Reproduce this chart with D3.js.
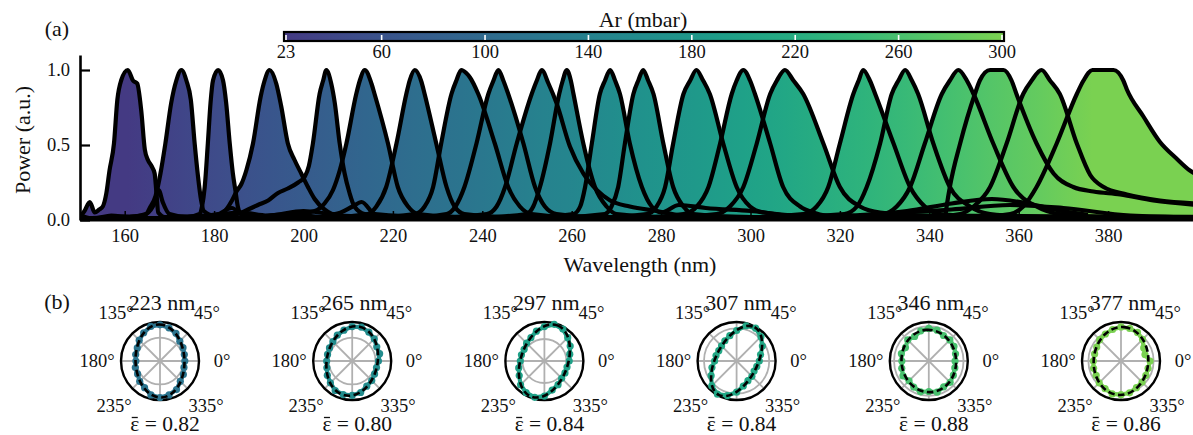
<!DOCTYPE html>
<html>
<head>
<meta charset="utf-8">
<title>Ar spectra</title>
<script src="https://cdn.jsdelivr.net/npm/d3@7"></script>
<style>
  body { margin: 0; background: #fff; }
  svg, svg text { font-family: "Liberation Serif", "Times New Roman", Tinos, "DejaVu Serif", serif; fill: #111; }
</style>
</head>
<body>
<script>

// Ar pressure (mbar) of each spectrum, in order of wavelength
var pressures = [23, 38, 49, 65, 80, 91, 106, 118, 128, 141, 148, 160, 170, 185, 199, 211, 232, 244, 260, 271, 284, 300];

// spectra: [wavelength nm, power a.u.]
var spectra = [
  [[150,0.02],[151,0.06],[152.2,0.12],[153.3,0.05],[154.3,0.07],[155.1,0.09],[155.9,0.18],[156.6,0.33],[157.6,0.51],[158.35,0.8],[159.2,0.93],[160.7,1.0],[161.85,0.93],[162.8,0.91],[163.7,0.73],[164.5,0.47],[165.2,0.4],[166,0.36],[166.7,0.31],[167.1,0.18],[167.5,0.05],[169,0.02],[178,0.03],[186,0.05],[192,0.03],[200,0.06],[207,0.04],[211,0.09],[213,0.12],[216,0.04],[230,0.02],[280,0.01],[400,0.01]],
  [[150,0.03],[153,0.01],[157,0.03],[161,0.02],[164.8,0.04],[165.6,0.08],[166.9,0.16],[168,0.31],[169.1,0.51],[170.4,0.78],[171.55,0.93],[172.7,1.0],[173.8,0.93],[174.8,0.8],[175.65,0.51],[176.4,0.29],[177.1,0.13],[177.7,0.06],[180,0.03],[184,0.08],[186,0.04],[195,0.02],[220,0.02],[260,0.01],[400,0.01]],
  [[150,0.01],[158,0.02],[164,0.03],[166.5,0.1],[167.6,0.2],[168.5,0.12],[170,0.04],[174,0.02],[176.8,0.04],[177.3,0.09],[177.9,0.22],[178.6,0.51],[179.2,0.78],[179.75,0.93],[180.9,1.0],[182,0.93],[182.7,0.78],[183.5,0.51],[184.2,0.31],[184.75,0.2],[185.3,0.09],[186,0.04],[188,0.02],[197,0.04],[204,0.02],[240,0.01],[400,0.01]],
  [[150,0.01],[170,0.01],[181.6,0.04],[182.7,0.07],[184,0.13],[185,0.19],[186.1,0.24],[187.2,0.33],[188.7,0.51],[190.4,0.82],[191.3,0.93],[192.4,1.0],[193.9,0.91],[195,0.76],[196.5,0.51],[198,0.4],[199.5,0.31],[201,0.22],[202.5,0.14],[204.7,0.07],[207.7,0.03],[220,0.02],[400,0.01]],
  [[150,0.01],[175,0.01],[185.3,0.04],[187.6,0.07],[189.8,0.1],[192.1,0.13],[194.3,0.18],[196.5,0.21],[198.8,0.25],[200.3,0.29],[201.2,0.36],[202.1,0.51],[203.6,0.84],[204.4,0.93],[205.1,1.0],[206.2,0.91],[207,0.78],[208.1,0.51],[209.2,0.31],[210.3,0.18],[211.4,0.09],[213.7,0.04],[222,0.02],[400,0.01]],
  [[150,0.01],[190,0.01],[202.5,0.06],[204.7,0.11],[206.6,0.2],[208.1,0.33],[209.6,0.51],[211.8,0.84],[212.6,0.93],[213.7,1.0],[215.2,0.91],[215.9,0.84],[218.9,0.51],[221.1,0.22],[223.4,0.09],[225.6,0.04],[235,0.02],[400,0.01]],
  [[150,0.01],[200,0.01],[214.4,0.04],[216.3,0.09],[218.5,0.22],[220.8,0.51],[223,0.84],[223.75,0.93],[224.9,1.0],[226.4,0.92],[227.1,0.84],[229.7,0.51],[232,0.22],[233.8,0.09],[236,0.04],[245,0.02],[400,0.01]],
  [[150,0.01],[210,0.01],[224.9,0.04],[227.1,0.09],[229,0.22],[230.8,0.51],[233.1,0.84],[234.2,0.93],[235.3,1.0],[236.4,0.98],[237.25,0.95],[239.1,0.84],[242.8,0.51],[245.8,0.22],[248.4,0.09],[251,0.04],[260,0.02],[400,0.01]],
  [[150,0.01],[220,0.01],[232,0.04],[234,0.09],[236,0.22],[238.7,0.51],[241.35,0.84],[242.5,0.93],[243.6,1.0],[244.7,0.93],[245.8,0.84],[249.2,0.51],[251.8,0.22],[254,0.09],[256.6,0.04],[265,0.02],[400,0.01]],
  [[150,0.01],[225,0.01],[241,0.04],[243.2,0.09],[245.1,0.22],[247.7,0.51],[251.05,0.84],[252.2,0.93],[253.3,1.0],[254.8,0.91],[256.6,0.78],[259.6,0.49],[262.6,0.31],[265.6,0.2],[268.6,0.13],[273,0.09],[279,0.06],[285,0.03],[300,0.02],[400,0.01]],
  [[150,0.01],[235,0.01],[249.9,0.04],[251.4,0.09],[252.9,0.22],[255.15,0.51],[257.2,0.84],[258,0.93],[258.9,1.0],[259.8,0.93],[260.4,0.84],[262.6,0.51],[265.2,0.22],[267.8,0.09],[270,0.04],[280,0.02],[400,0.01]],
  [[150,0.01],[245,0.01],[260.4,0.04],[261.9,0.09],[263,0.22],[264.5,0.51],[266.3,0.84],[267.45,0.93],[268.6,1.0],[269.7,0.93],[270.8,0.84],[273,0.51],[275.7,0.22],[277.9,0.09],[280.1,0.05],[284,0.1],[290,0.08],[300,0.06],[310,0.03],[330,0.02],[400,0.01]],
  [[150,0.01],[250,0.01],[267.4,0.04],[268.9,0.09],[270.4,0.22],[271.9,0.51],[273.8,0.84],[274.9,0.93],[276,1.0],[277.1,0.93],[278.3,0.84],[280.5,0.51],[282.7,0.22],[285,0.09],[287.2,0.04],[300,0.02],[400,0.01]],
  [[150,0.01],[260,0.01],[276.8,0.04],[279,0.09],[280.9,0.22],[282.7,0.51],[285,0.84],[286.5,0.93],[287.9,1.0],[289.4,0.93],[290.9,0.84],[293.9,0.51],[296.9,0.22],[299.9,0.09],[302.9,0.05],[310,0.03],[320,0.03],[335,0.06],[345,0.11],[354,0.14],[362,0.11],[368,0.07],[375.5,0.035]],
  [[150,0.01],[270,0.01],[285,0.04],[288,0.09],[290.6,0.22],[293.2,0.51],[295.8,0.84],[296.9,0.93],[298.4,1.0],[299.9,0.93],[301,0.84],[304.4,0.51],[307.3,0.22],[311.1,0.09],[314,0.05],[320,0.02],[330,0.04],[345,0.07],[358,0.1],[370,0.08],[385,0.03],[400,0.02]],
  [[150,0.01],[275,0.01],[292.4,0.04],[295.4,0.09],[298.4,0.22],[301.4,0.51],[304.4,0.84],[305.9,0.93],[307.7,1.0],[309.6,0.93],[311.8,0.84],[316.3,0.51],[320,0.22],[324.5,0.09],[329,0.05],[340,0.03],[400,0.02]],
  [[150,0.01],[290,0.01],[311.8,0.04],[314.8,0.09],[317.4,0.22],[320,0.51],[323,0.84],[324.2,0.93],[325.2,1.0],[326.7,0.93],[327.9,0.84],[332,0.51],[335.7,0.22],[339,0.09],[342.4,0.04],[355,0.02],[400,0.01]],
  [[150,0.01],[300,0.01],[321,0.04],[323.8,0.09],[326,0.22],[329,0.51],[331.6,0.84],[333.1,0.93],[334.6,1.0],[336.1,0.93],[337.5,0.84],[340.9,0.51],[344.6,0.22],[349.1,0.09],[353.6,0.04],[365,0.02],[400,0.01]],
  [[150,0.01],[310,0.01],[329.7,0.04],[332.7,0.09],[335.7,0.22],[339,0.51],[342.8,0.84],[344.6,0.93],[346.5,1.0],[348.4,0.93],[349.9,0.84],[354.3,0.51],[358.8,0.22],[364,0.09],[369.2,0.04],[380,0.02],[400,0.02]],
  [[343.5,0.0],[343.7,0.05],[344.6,0.22],[346.9,0.51],[350.2,0.84],[351.3,0.93],[353.6,1.0],[356.6,1.0],[358.4,0.93],[359.5,0.84],[364,0.51],[367.8,0.31],[372.2,0.22],[376.7,0.19],[382.7,0.17],[390.1,0.13],[400,0.1]],
  [[150,0.01],[320,0.01],[340,0.02],[346.9,0.04],[349.9,0.09],[353.6,0.22],[357.3,0.51],[361,0.84],[362.9,0.93],[365.1,1.0],[367,0.93],[369.2,0.84],[373,0.51],[376,0.3],[379,0.22],[384.2,0.17],[391.6,0.13],[400,0.11]],
  [[150,0.01],[330,0.01],[350,0.02],[358.1,0.04],[361,0.09],[364,0.22],[368.5,0.51],[373,0.84],[374.5,0.93],[376.5,1.0],[381.2,1.0],[383.4,0.93],[384.2,0.87],[387.9,0.69],[391.6,0.52],[395.3,0.41],[398.3,0.33],[400,0.3]]
];

var xTicks = [160, 180, 200, 220, 240, 260, 280, 300, 320, 340, 360, 380];
var yTicks = [0, 0.5, 1.0];
var cbTicks = [23, 60, 100, 140, 180, 220, 260, 300];

// polarisation panels (b)
var polarTitles = ["223 nm", "265 nm", "297 nm", "307 nm", "346 nm", "377 nm"];
var polarEps = ["0.82", "0.80", "0.84", "0.84", "0.88", "0.86"];
var polarPressure = [118, 160, 199, 211, 260, 300];
var polarAngles = [0, 15, 30, 45, 60, 75, 90, 105, 120, 135, 150, 165, 180, 195, 210, 225, 240, 255, 270, 285, 300, 315, 330, 345];
var polarR = [
  [0.70,0.71,0.75,0.79,0.90,0.97,1.02,1.01,0.92,0.83,0.74,0.71,0.68,0.72,0.73,0.81,0.87,0.99,1.03,0.99,0.93,0.81,0.76,0.70],
  [0.74,0.80,0.80,0.88,0.94,0.99,0.97,0.90,0.84,0.77,0.74,0.72,0.72,0.74,0.81,0.87,0.96,0.98,0.97,0.92,0.82,0.78,0.73,0.71],
  [0.70,0.74,0.84,0.93,1.04,1.07,0.97,0.87,0.76,0.71,0.66,0.67,0.68,0.75,0.82,0.95,1.03,1.06,0.99,0.85,0.77,0.69,0.67,0.66],
  [0.64,0.70,0.84,0.97,1.07,1.03,0.86,0.74,0.66,0.60,0.58,0.60,0.62,0.72,0.83,0.99,1.08,1.01,0.88,0.73,0.64,0.61,0.57,0.59],
  [0.74,0.78,0.82,0.84,0.83,0.90,0.92,0.88,0.80,0.84,0.76,0.80,0.76,0.79,0.84,0.79,0.85,0.90,0.86,0.91,0.84,0.85,0.80,0.76],
  [0.82,0.70,0.74,0.86,0.93,0.95,0.96,0.92,0.88,0.85,0.79,0.77,0.78,0.80,0.81,0.87,0.90,0.96,0.95,0.93,0.87,0.84,0.81,0.79]
];
// dashed ellipse fit: semi-axes and orientation (deg)
var fitA = [1.03, 0.99, 1.07, 1.08, 0.88, 0.96];
var fitB = [0.69, 0.715, 0.66, 0.58, 0.77, 0.77];
var fitAngle = [92, 78, 70, 62, 95, 85];
var gridRing = [0.66, 0.66, 0.62, 0.92, 0.98, 0.92];

var W = 1193, H = 435;
var FONT = "'Liberation Serif', 'Times New Roman', Tinos, 'DejaVu Serif', serif";

var svg = d3.select("body").append("svg")
    .attr("width", W)
    .attr("height", H)
    .style("font-family", FONT);

var cmap = function(p) {
  return d3.interpolateViridis(0.17 + 0.63 * (p - 23) / 277);
};

// ---------- panel (a) ----------
var x = d3.scaleLinear().domain([150, 400]).range([80, 1197.5]);
var y = d3.scaleLinear().domain([0, 1.1]).range([220, 55]);

var defs = svg.append("defs");

// fill colour follows the wavelength of each spectrum's maximum
var grad = defs.append("linearGradient")
    .attr("id", "specgrad")
    .attr("gradientUnits", "userSpaceOnUse")
    .attr("x1", x(150)).attr("x2", x(400))
    .attr("y1", 0).attr("y2", 0);

spectra.forEach(function(s, i) {
  var top = d3.greatest(s, function(d) { return d[1]; });
  grad.append("stop")
      .attr("offset", (top[0] - 150) / 250)
      .attr("stop-color", cmap(pressures[i]));
});

defs.append("clipPath").attr("id", "plotclip")
  .append("rect")
    .attr("x", x(150)).attr("y", 0)
    .attr("width", x(400) - x(150)).attr("height", y(0));

var area = d3.area()
    .x(function(d) { return x(d[0]); })
    .y0(y(0))
    .y1(function(d) { return y(d[1]); })
    .curve(d3.curveMonotoneX);

var line = d3.line()
    .x(function(d) { return x(d[0]); })
    .y(function(d) { return y(d[1]); })
    .curve(d3.curveMonotoneX);

var plot = svg.append("g").attr("clip-path", "url(#plotclip)");

plot.selectAll("path.fill")
    .data(spectra)
  .enter().append("path")
    .attr("class", "fill")
    .attr("d", area)
    .attr("fill", "url(#specgrad)");

plot.selectAll("path.spec")
    .data(spectra)
  .enter().append("path")
    .attr("class", "spec")
    .attr("d", line)
    .attr("fill", "none")
    .attr("stroke", "#000")
    .attr("stroke-width", 4.2)
    .attr("stroke-linejoin", "round");

var xAxis = d3.axisBottom(x)
    .tickValues(xTicks)
    .tickSizeInner(-9)
    .tickSizeOuter(0)
    .tickPadding(9);

var xg = svg.append("g")
    .attr("transform", "translate(0," + y(0) + ")")
    .call(xAxis);
xg.select(".domain").attr("stroke-width", 2.2);
xg.selectAll(".tick line").attr("stroke-width", 1.5);

var yAxis = d3.axisLeft(y)
    .tickValues(yTicks)
    .tickFormat(d3.format(".1f"))
    .tickSizeInner(-10)
    .tickSizeOuter(0)
    .tickPadding(10);

var yg = svg.append("g")
    .attr("transform", "translate(" + x(150) + ",0)")
    .call(yAxis);
yg.select(".domain").attr("stroke-width", 2.6);
yg.selectAll(".tick line").attr("stroke-width", 2.2);

svg.selectAll(".tick text")
    .attr("font-size", 18.5)
    .style("font-family", FONT)
    .attr("fill", "#111");

svg.append("text")
    .attr("transform", "translate(22,140) rotate(-90)")
    .attr("text-anchor", "middle")
    .attr("dominant-baseline", "central")
    .attr("font-size", 22)
    .text("Power (a.u.)");

svg.append("text")
    .attr("x", 640).attr("y", 264)
    .attr("text-anchor", "middle")
    .attr("dominant-baseline", "central")
    .attr("font-size", 22)
    .text("Wavelength (nm)");

svg.append("text")
    .attr("x", 57).attr("y", 28)
    .attr("text-anchor", "middle")
    .attr("dominant-baseline", "central")
    .attr("font-size", 22)
    .text("(a)");

// colour bar
var cb = d3.scaleLinear().domain([23, 300]).range([286, 1002]);

var cbgrad = defs.append("linearGradient")
    .attr("id", "cbgrad")
    .attr("gradientUnits", "userSpaceOnUse")
    .attr("x1", cb(23)).attr("x2", cb(300))
    .attr("y1", 0).attr("y2", 0);
d3.range(0, 1.0001, 0.1).forEach(function(t) {
  cbgrad.append("stop")
      .attr("offset", t)
      .attr("stop-color", cmap(23 + t * 277));
});

svg.append("rect")
    .attr("x", cb.range()[0] - 2).attr("y", 32)
    .attr("width", cb.range()[1] - cb.range()[0] + 4).attr("height", 9)
    .attr("fill", "url(#cbgrad)")
    .attr("stroke", "#000")
    .attr("stroke-width", 2.2);

svg.selectAll("line.cbtick")
    .data(cbTicks)
  .enter().append("line")
    .attr("class", "cbtick")
    .attr("x1", function(d) { return cb(d); })
    .attr("x2", function(d) { return cb(d); })
    .attr("y1", 35).attr("y2", 40)
    .attr("stroke", "#fff")
    .attr("stroke-width", 1.6);

svg.selectAll("text.cblab")
    .data(cbTicks)
  .enter().append("text")
    .attr("class", "cblab")
    .attr("x", function(d) { return cb(d); })
    .attr("y", 52)
    .attr("text-anchor", "middle")
    .attr("dominant-baseline", "central")
    .attr("font-size", 18.5)
    .text(function(d) { return d; });

svg.append("text")
    .attr("x", 643).attr("y", 19)
    .attr("text-anchor", "middle")
    .attr("dominant-baseline", "central")
    .attr("font-size", 22)
    .text("Ar (mbar)");

// ---------- panel (b) ----------
svg.append("text")
    .attr("x", 57).attr("y", 301)
    .attr("text-anchor", "middle")
    .attr("dominant-baseline", "central")
    .attr("font-size", 22)
    .text("(b)");

var R = 39;
var r = d3.scaleLinear().domain([0, 1.1]).range([0, R]);
var rad = function(deg) { return deg * Math.PI / 180; };

var spokes = [0, 45, 90, 135, 180, 225, 270, 315];
var angleLabels = [
  {t: "0°", dx: 62, dy: 0},
  {t: "45°", dx: 47, dy: -48},
  {t: "135°", dx: -44, dy: -48},
  {t: "180°", dx: -63, dy: 0},
  {t: "235°", dx: -46, dy: 45},
  {t: "335°", dx: 46, dy: 45}
];

var radial = d3.lineRadial()
    .angle(function(d) { return Math.PI / 2 - rad(d[0]); })
    .radius(function(d) { return r(d[1]); })
    .curve(d3.curveLinearClosed);

polarTitles.forEach(function(title, i) {
  var cx = 160 + 192.2 * i, cy = 361;
  var g = svg.append("g").attr("transform", "translate(" + cx + "," + cy + ")");
  var col = cmap(polarPressure[i]);

  g.selectAll("line.spoke")
      .data(spokes)
    .enter().append("line")
      .attr("x1", 0).attr("y1", 0)
      .attr("x2", function(d) { return R * Math.cos(rad(d)); })
      .attr("y2", function(d) { return -R * Math.sin(rad(d)); })
      .attr("stroke", "#b0b0b0")
      .attr("stroke-width", 1.8);

  g.append("circle")
      .attr("r", r(gridRing[i]))
      .attr("fill", "none")
      .attr("stroke", "#b0b0b0")
      .attr("stroke-width", 1.8);

  g.append("circle")
      .attr("r", R)
      .attr("fill", "none")
      .attr("stroke", "#000")
      .attr("stroke-width", 2.4);

  var pts = polarAngles.map(function(a, k) { return [a, polarR[i][k]]; });

  g.append("path")
      .attr("d", radial(pts))
      .attr("fill", "none")
      .attr("stroke", col)
      .attr("stroke-width", 4.2);

  g.selectAll("circle.pt")
      .data(pts)
    .enter().append("circle")
      .attr("class", "pt")
      .attr("cx", function(d) { return r(d[1]) * Math.cos(rad(d[0])); })
      .attr("cy", function(d) { return -r(d[1]) * Math.sin(rad(d[0])); })
      .attr("r", 3.6)
      .attr("fill", col);

  g.append("ellipse")
      .attr("rx", r(fitA[i]))
      .attr("ry", r(fitB[i]))
      .attr("transform", "rotate(" + (-fitAngle[i]) + ")")
      .attr("fill", "none")
      .attr("stroke", "#000")
      .attr("stroke-width", 2.6)
      .attr("stroke-dasharray", "6.5,3.5");

  g.selectAll("text.ang")
      .data(angleLabels)
    .enter().append("text")
      .attr("x", function(d) { return d.dx; })
      .attr("y", function(d) { return d.dy; })
      .attr("text-anchor", "middle")
      .attr("dominant-baseline", "central")
      .attr("font-size", 18.5)
      .text(function(d) { return d.t; });

  g.append("text")
      .attr("x", 2).attr("y", -51.5)
      .attr("text-anchor", "middle")
      .attr("font-size", 22)
      .text(title);

  // epsilon with a drawn bar on top
  var eps = g.append("text")
      .attr("x", 5).attr("y", 70)
      .attr("text-anchor", "middle")
      .attr("font-size", 21.5)
      .text("ε = " + polarEps[i]);
  var ext = eps.node().getExtentOfChar(0);
  g.append("line")
      .attr("x1", ext.x + 1.5).attr("x2", ext.x + ext.width - 1.5)
      .attr("y1", 70 - 13.5).attr("y2", 70 - 13.5)
      .attr("stroke", "#111")
      .attr("stroke-width", 1.3);
});

</script>
</body>
</html>
